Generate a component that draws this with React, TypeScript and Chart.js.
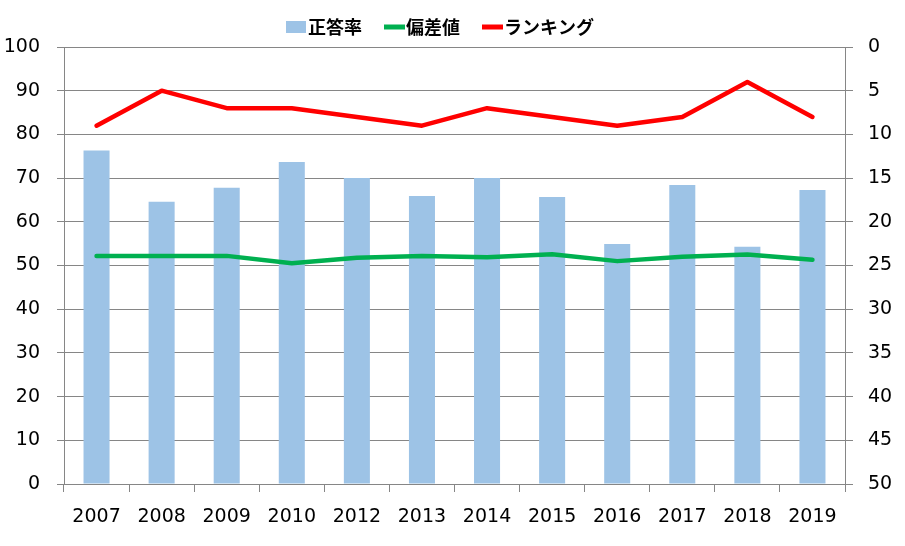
import React, { useEffect, useRef } from 'react';
import { Chart, registerables } from 'chart.js';

Chart.register(...registerables);

const years = ['2007', '2008', '2009', '2010', '2012', '2013', '2014', '2015', '2016', '2017', '2018', '2019'];
const correctRate = [76.3, 64.6, 67.8, 73.7, 70.0, 65.9, 70.0, 65.7, 54.9, 68.4, 54.3, 67.3];
const deviation = [52.2, 52.2, 52.2, 50.5, 51.8, 52.2, 51.9, 52.6, 51.0, 52.0, 52.5, 51.3];
const ranking = [9, 5, 7, 7, 8, 9, 7, 8, 9, 8, 4, 8];

const seriesNames = ['正答率', '偏差値', 'ランキング'];
const barColor = '#9DC3E6';
const greenColor = '#00B050';
const redColor = '#FF0000';
const gridColor = '#868686';
const tickFont = { family: '"DejaVu Sans", Verdana, sans-serif', size: 19 };

const legendPlugin = {
  id: 'customLegend',
  afterDraw(chart: any) {
    const ctx = chart.ctx as CanvasRenderingContext2D;
    ctx.save();
    ctx.font = 'bold 18px "Noto Sans CJK JP", sans-serif';
    ctx.textBaseline = 'middle';
    const items = chart.data.datasets.map((ds: any) => ({
      label: ds.label as string,
      isBar: ds.type === 'bar',
      color: ds.type === 'bar' ? ds.backgroundColor : ds.borderColor,
    }));
    const boxW = 20;
    const gap = 2;
    const spacing = 22;
    const widths = items.map((it: any) => boxW + gap + ctx.measureText(it.label).width);
    const total = widths.reduce((a: number, b: number) => a + b, 0) + spacing * (items.length - 1);
    let x = 440 - total / 2;
    const cy = 27;
    items.forEach((it: any, i: number) => {
      if (it.isBar) {
        ctx.fillStyle = it.color;
        ctx.fillRect(x, cy - 6, boxW, 12);
      } else {
        ctx.strokeStyle = it.color;
        ctx.lineWidth = 5;
        ctx.lineCap = 'butt';
        ctx.beginPath();
        ctx.moveTo(x, cy);
        ctx.lineTo(x + boxW + 1, cy);
        ctx.stroke();
      }
      ctx.fillStyle = '#000';
      ctx.textAlign = 'left';
      ctx.fillText(it.label, x + boxW + gap, cy);
      x += widths[i] + spacing;
    });
    ctx.restore();
  },
};

export default function App() {
  const canvasRef = useRef<HTMLCanvasElement | null>(null);

  useEffect(() => {
    if (!canvasRef.current) return;
    const chart = new Chart(canvasRef.current, {
      type: 'bar',
      data: {
        labels: years,
        datasets: [
          {
            type: 'bar',
            label: seriesNames[0],
            data: correctRate,
            backgroundColor: barColor,
            borderWidth: 0,
            barPercentage: 0.4,
            categoryPercentage: 1.0,
            yAxisID: 'y',
            order: 3,
          } as any,
          {
            type: 'line',
            label: seriesNames[1],
            data: deviation,
            borderColor: greenColor,
            backgroundColor: greenColor,
            borderWidth: 4.5,
            pointRadius: 0,
            tension: 0,
            borderCapStyle: 'round',
            borderJoinStyle: 'round',
            yAxisID: 'y',
            order: 2,
          } as any,
          {
            type: 'line',
            label: seriesNames[2],
            data: ranking,
            borderColor: redColor,
            backgroundColor: redColor,
            borderWidth: 4.5,
            pointRadius: 0,
            tension: 0,
            borderCapStyle: 'round',
            borderJoinStyle: 'round',
            yAxisID: 'y1',
            order: 1,
          } as any,
        ],
      },
      options: {
        responsive: false,
        animation: false,
        layout: { padding: { top: 47, left: 0, right: 0, bottom: 0 } },
        plugins: {
          legend: { display: false },
          tooltip: { enabled: false },
        },
        scales: {
          x: {
            offset: true,
            grid: {
              display: true,
              drawOnChartArea: false,
              offset: true,
              tickLength: 8,
              color: gridColor,
            },
            border: { display: true, color: gridColor },
            ticks: {
              font: tickFont,
              color: '#000',
              padding: 14,
              maxRotation: 0,
              autoSkip: false,
            },
            afterFit: (s: any) => {
              s.height = 62;
            },
          },
          y: {
            position: 'left',
            min: 0,
            max: 100,
            ticks: { stepSize: 10, padding: 17, font: tickFont, color: '#000' },
            grid: { color: gridColor, tickLength: 7 },
            border: { display: true, color: gridColor },
            afterFit: (s: any) => {
              s.width = 64;
            },
          },
          y1: {
            position: 'right',
            min: 0,
            max: 50,
            reverse: true,
            ticks: { stepSize: 5, padding: 15, font: tickFont, color: '#000' },
            grid: { drawOnChartArea: false, color: gridColor, tickLength: 8 },
            border: { display: true, color: gridColor },
            afterFit: (s: any) => {
              s.width = 60;
            },
          },
        },
      } as any,
      plugins: [legendPlugin],
    });
    return () => chart.destroy();
  }, []);

  return (
    <div style={{ position: 'fixed', left: 0, top: 0, width: 905, height: 546, background: '#fff' }}>
      <canvas ref={canvasRef} width={905} height={546} />
    </div>
  );
}
